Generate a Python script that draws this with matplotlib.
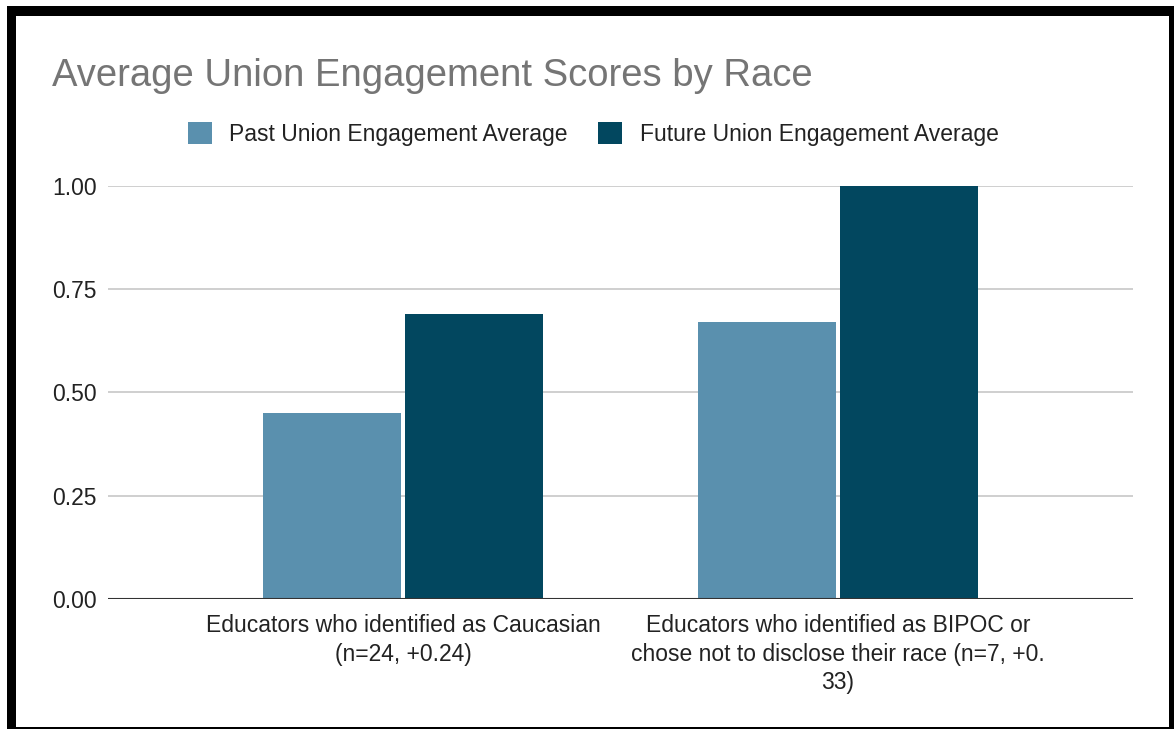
import matplotlib.pyplot as plt
from matplotlib.patches import Rectangle
import numpy as np

plt.rcParams['font.family'] = ['Liberation Sans', 'DejaVu Sans']

# chart data
groups = ['Educators who identified as Caucasian\n(n=24, +0.24)',
          'Educators who identified as BIPOC or\nchose not to disclose their race (n=7, +0.\n33)']
past_avg = [0.45, 0.67]
future_avg = [0.69, 1.00]
series_names = ['Past Union Engagement Average', 'Future Union Engagement Average']
yticks = [0.0, 0.25, 0.5, 0.75, 1.0]

past_color = '#5a90ae'
future_color = '#02475f'

W, H = 1174, 729
fig = plt.figure(figsize=(W / 100, H / 100), dpi=100)
fig.patch.set_facecolor('white')

ax = fig.add_axes([108 / W, 1 - 599 / H, (1133 - 108) / W, (599 - 185.7) / H])

x = np.arange(len(groups))
bw = 0.318
gap = 0.004
ax.bar(x - bw / 2 - gap, past_avg, bw, color=past_color, label=series_names[0],
       clip_on=False, zorder=3)
ax.bar(x + bw / 2 + gap, future_avg, bw, color=future_color, label=series_names[1],
       clip_on=False, zorder=3)

ax.set_xlim(-0.678, 1.678)
ax.set_ylim(0, 1.0)
ax.set_yticks(yticks)
ax.set_yticklabels([f'{v:.2f}' for v in yticks])
ax.set_xticks(x)
ax.set_xticklabels(groups, linespacing=1.3)

ax.tick_params(axis='y', length=0, pad=8, labelsize=16.5, labelcolor='#222222')
ax.tick_params(axis='x', length=0, pad=11, labelsize=16.5, labelcolor='#222222')

for sp in ax.spines.values():
    sp.set_visible(False)
ax.yaxis.grid(True, color='#cccccc', linewidth=1.3, zorder=0)
ax.set_axisbelow(True)
ax.axhline(0, color='#333333', linewidth=1.5, zorder=4)

fig.text(52 / W, 1 - 76 / H, 'Average Union Engagement Scores by Race',
         fontsize=27.5, color='#757575', ha='left', va='center')

fig.legend(loc='center', bbox_to_anchor=(593 / W, 1 - 134 / H), ncol=2,
           frameon=False, fontsize=16.5, handlelength=1.05, handleheight=1.05,
           handletextpad=0.75, columnspacing=1.35, labelcolor='#222222')

# black frame around the card
frame = [(7, 6, 1167, 10), (7, 6, 9, 723), (1169, 6, 5, 723), (7, 727, 1167, 2)]
for fx, fy, fw, fh in frame:
    fig.add_artist(Rectangle((fx / W, 1 - (fy + fh) / H), fw / W, fh / H,
                             transform=fig.transFigure, color='black', lw=0))

fig.savefig('out.png', dpi=100)
